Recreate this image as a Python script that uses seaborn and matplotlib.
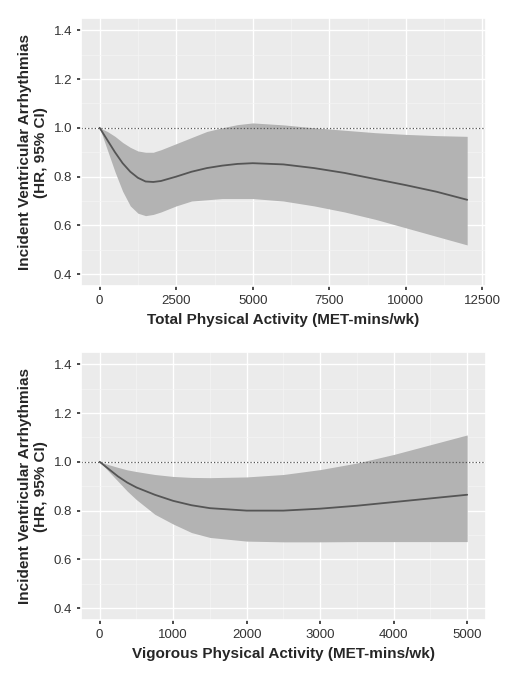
import matplotlib
matplotlib.use('Agg')
import matplotlib.pyplot as plt
from matplotlib.ticker import AutoMinorLocator
import seaborn as sns
import pandas as pd

# total physical activity
tot_x = [0, 250, 500, 750, 1000, 1250, 1500, 1750, 2000, 2500, 3000, 3500, 4000, 4500, 5000, 6000, 7000, 8000, 9000, 10000, 11000, 12000]
tot_hr = [1.0, 0.95, 0.90, 0.855, 0.82, 0.795, 0.78, 0.778, 0.782, 0.80, 0.82, 0.835, 0.845, 0.852, 0.855, 0.85, 0.835, 0.815, 0.79, 0.765, 0.738, 0.705]
tot_lo = [1.0, 0.91, 0.82, 0.74, 0.68, 0.65, 0.64, 0.645, 0.655, 0.68, 0.70, 0.705, 0.71, 0.71, 0.71, 0.70, 0.68, 0.655, 0.625, 0.59, 0.555, 0.52]
tot_hi = [1.0, 0.985, 0.965, 0.94, 0.92, 0.905, 0.90, 0.90, 0.91, 0.935, 0.96, 0.985, 1.00, 1.013, 1.02, 1.012, 1.0, 0.99, 0.98, 0.973, 0.968, 0.965]

# vigorous physical activity
vig_x = [0, 125, 250, 375, 500, 750, 1000, 1250, 1500, 2000, 2500, 3000, 3500, 4000, 4500, 5000]
vig_hr = [1.0, 0.97, 0.94, 0.915, 0.895, 0.865, 0.84, 0.822, 0.81, 0.80, 0.80, 0.808, 0.82, 0.835, 0.85, 0.865]
vig_lo = [1.0, 0.96, 0.92, 0.88, 0.845, 0.785, 0.745, 0.71, 0.69, 0.675, 0.672, 0.672, 0.673, 0.673, 0.673, 0.673]
vig_hi = [1.0, 0.988, 0.977, 0.967, 0.96, 0.948, 0.94, 0.936, 0.935, 0.938, 0.948, 0.968, 0.995, 1.03, 1.07, 1.11]

sns.set_theme(style='darkgrid', rc={'axes.facecolor': '#EBEBEB', 'grid.color': 'white'})
plt.rcParams['font.family'] = ['Liberation Sans', 'DejaVu Sans']

fig, axes = plt.subplots(2, 1, figsize=(5.19, 6.79), dpi=100)
panels = [
    (tot_x, tot_hr, tot_lo, tot_hi, 'Total Physical Activity (MET-mins/wk)', [0, 2500, 5000, 7500, 10000, 12500], (-600, 12600)),
    (vig_x, vig_hr, vig_lo, vig_hi, 'Vigorous Physical Activity (MET-mins/wk)', [0, 1000, 2000, 3000, 4000, 5000], (-250, 5250)),
]
for ax, (x, hr, lo, hi, xlab, ticks, xl) in zip(axes, panels):
    df = pd.DataFrame({'x': x, 'hr': hr})
    ax.fill_between(x, lo, hi, color='#B3B3B3', lw=0)
    sns.lineplot(data=df, x='x', y='hr', ax=ax, color='#555555', lw=1.3)
    ax.axhline(1.0, color='#555555', ls=':', lw=0.9)
    ax.set_ylim(0.35, 1.45)
    ax.set_yticks([0.4, 0.6, 0.8, 1.0, 1.2, 1.4])
    ax.set_xticks(ticks)
    ax.set_xlim(*xl)
    ax.xaxis.set_minor_locator(AutoMinorLocator(2))
    ax.yaxis.set_minor_locator(AutoMinorLocator(2))
    ax.grid(which='major', color='white', lw=1.0)
    ax.grid(which='minor', color='#F5F5F5', lw=0.5)
    ax.set_xlabel(xlab, fontweight='bold', fontsize=11)
    ax.set_ylabel('Incident Ventricular Arrhythmias\n(HR, 95% CI)', fontweight='bold', fontsize=11)
    ax.tick_params(labelsize=9.5, colors='#333333', length=3, bottom=True, left=True)
    ax.tick_params(which='minor', length=0)

plt.tight_layout(h_pad=1.5)
plt.savefig('out.png', dpi=100)
